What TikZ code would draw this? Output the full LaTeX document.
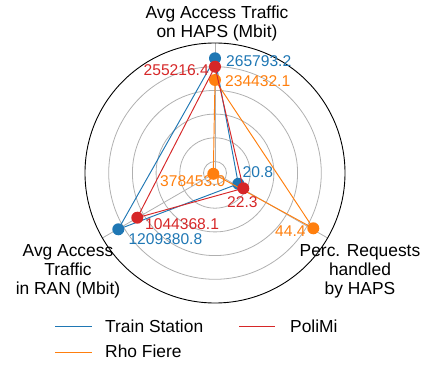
\documentclass[tikz,border=0pt]{standalone}
\usepackage{fontspec}
\setmainfont{Liberation Sans}
\definecolor{tabblue}{HTML}{1F77B4}
\definecolor{taborange}{HTML}{FF7F0E}
\definecolor{tabred}{HTML}{D62728}
\definecolor{gridgray}{HTML}{B0B0B0}
\begin{document}
\begin{tikzpicture}[x=1pt,y=-1pt,
  gridline/.style={draw=gridgray,line width=0.8pt},
  series/.style={line width=0.95pt,line join=round},
  dot/.style={circle,fill=#1,inner sep=0pt,minimum size=12pt},
  axlabel/.style={font=\fontsize{17.4}{19}\selectfont,inner sep=0pt,anchor=base},
  vallabel/.style={font=\fontsize{15.6}{18}\selectfont,inner sep=0pt,text=#1},
  legline/.style={line width=0.95pt},
  legtext/.style={font=\fontsize{17.4}{19}\selectfont,inner sep=0pt,anchor=base west},
]
\useasboundingbox (0,0) rectangle (429,366);
\coordinate (C) at (215,173);
% grid
\foreach \r in {11.5,35.2,58.9,82.6,106.3} \draw[gridline] (C) circle[radius=\r pt];
\coordinate (Atop) at (215,43);
\coordinate (All) at (102.4,238);
\coordinate (Alr) at (327.6,238);
\draw[gridline] (C) -- (Atop);
\draw[gridline] (C) -- (All);
\draw[gridline] (C) -- (Alr);
\draw[black,line width=0.9pt] (C) circle[radius=130pt];
% Train Station (blue)
\coordinate (b1) at (215,58.3);
\coordinate (b2) at (118.3,229.3);
\coordinate (b3) at (238.3,183.8);
\draw[series,tabblue] (b1) -- (b2) -- (b3) -- cycle;
\node[dot=tabblue] (bd1) at (b1) {};
\node[dot=tabblue] (bd2) at (b2) {};
\node[dot=tabblue] (bd3) at (b3) {};
% Rho Fiere (orange)
\coordinate (o1) at (215,80);
\coordinate (o2) at (213.3,173.8);
\coordinate (o3) at (313.3,228.3);
\draw[series,taborange] (o1) -- (o2) -- (o3) -- cycle;
\node[dot=taborange] (od1) at (o1) {};
\node[dot=taborange] (od2) at (o2) {};
\node[dot=taborange] (od3) at (o3) {};
% PoliMi (red)
\coordinate (r1) at (215,66.7);
\coordinate (r2) at (137.3,217.7);
\coordinate (r3) at (243.3,188.3);
\draw[series,tabred] (r1) -- (r2) -- (r3) -- cycle;
\node[dot=tabred] (rd1) at (r1) {};
\node[dot=tabred] (rd2) at (r2) {};
\node[dot=tabred] (rd3) at (r3) {};
% value labels
\node[vallabel=tabblue,anchor=base west] (vb1) at (226,67) {265793.2};
\node[vallabel=tabred,anchor=base west] (vr1) at (143.5,76) {255216.4};
\node[vallabel=taborange,anchor=base west] (vo1) at (225,87) {234432.1};
\node[vallabel=tabblue,anchor=base west] (vb3) at (242.5,178) {20.8};
\node[vallabel=taborange,anchor=base west] (vo2) at (160,187) {378453.0};
\node[vallabel=tabred,anchor=base west] (vr3) at (227,208) {22.3};
\node[vallabel=tabred,anchor=base west] (vr2) at (145,230) {1044368.1};
\node[vallabel=tabblue,anchor=base west] (vb2) at (128.3,245) {1209380.8};
\node[vallabel=taborange,anchor=base west] (vo3) at (275,237) {44.4};
% axis labels
\node[axlabel] (lt1) at (217,18.5) {Avg Access Traffic};
\node[axlabel] (lt2) at (217,37.5) {on HAPS (Mbit)};
\node[axlabel] (ll1) at (68,257) {Avg Access};
\node[axlabel] (ll2) at (68,276) {Traffic};
\node[axlabel] (ll3) at (68,295) {in RAN (Mbit)};
\node[axlabel] (lr1) at (360,257) {Perc. Requests};
\node[axlabel] (lr2) at (360,276) {handled};
\node[axlabel] (lr3) at (360,295) {by HAPS};
% legend
\coordinate (lgb1) at (55,326); \coordinate (lgb2) at (92,326);
\coordinate (lgo1) at (55,352); \coordinate (lgo2) at (92,352);
\coordinate (lgr1) at (239,326); \coordinate (lgr2) at (275,326);
\draw[legline,tabblue] (lgb1) -- (lgb2);
\draw[legline,taborange] (lgo1) -- (lgo2);
\draw[legline,tabred] (lgr1) -- (lgr2);
\node[legtext] (tb) at (105,333) {Train Station};
\node[legtext] (to) at (105,358) {Rho Fiere};
\node[legtext] (tr) at (290,333) {PoliMi};
\end{tikzpicture}
\end{document}
